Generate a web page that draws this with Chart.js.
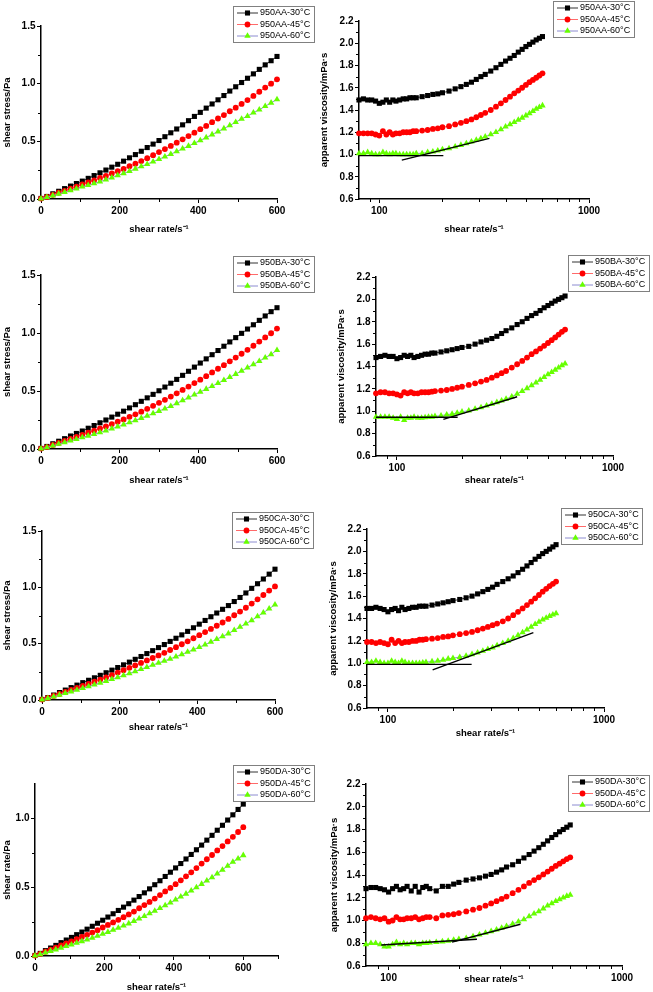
<!DOCTYPE html>
<html><head><meta charset="utf-8">
<script src="https://cdn.jsdelivr.net/npm/chart.js@4.4.1/dist/chart.umd.min.js"></script>
<style>
html,body{margin:0;padding:0;background:#fff;}
body{width:653px;height:992px;position:relative;overflow:hidden;}
canvas{position:absolute;}
</style></head><body>
<script>
// ---------------- DATA ----------------
const stressRates = [0,15,30,45,60,75,90,105,120,135,150,165,180,195,210,225,240,255,270,285,300,315,330,345,360,375,390,405,420,435,450,465,480,495,510,525,540,555,570,585,600];

const aaStress30 = [0.005,0.022,0.045,0.067,0.090,0.112,0.134,0.155,0.179,0.203,0.227,0.251,0.276,0.301,0.328,0.357,0.385,0.414,0.446,0.476,0.507,0.540,0.574,0.607,0.643,0.679,0.716,0.751,0.788,0.824,0.860,0.897,0.936,0.973,1.010,1.047,1.085,1.124,1.163,1.199,1.236];
const aaStress45 = [0.004,0.018,0.036,0.054,0.071,0.089,0.107,0.126,0.143,0.162,0.182,0.200,0.221,0.241,0.261,0.284,0.306,0.329,0.354,0.380,0.407,0.433,0.460,0.488,0.517,0.546,0.575,0.605,0.634,0.666,0.698,0.728,0.761,0.792,0.824,0.858,0.894,0.930,0.966,1.000,1.038];
const aaStress60 = [0.003,0.015,0.030,0.045,0.060,0.075,0.090,0.106,0.120,0.135,0.150,0.167,0.185,0.204,0.222,0.241,0.262,0.282,0.302,0.324,0.345,0.367,0.389,0.412,0.436,0.459,0.484,0.508,0.533,0.559,0.585,0.611,0.638,0.666,0.694,0.719,0.748,0.774,0.804,0.834,0.864];

const baStress30 = [0.005,0.022,0.045,0.067,0.089,0.112,0.134,0.155,0.179,0.202,0.226,0.250,0.275,0.300,0.326,0.354,0.382,0.411,0.441,0.471,0.502,0.534,0.567,0.600,0.635,0.670,0.706,0.741,0.777,0.813,0.849,0.886,0.923,0.960,0.997,1.034,1.071,1.109,1.147,1.184,1.218];
const baStress45 = [0.004,0.017,0.035,0.052,0.070,0.087,0.104,0.122,0.140,0.158,0.177,0.195,0.215,0.235,0.255,0.277,0.299,0.322,0.346,0.372,0.398,0.424,0.452,0.480,0.509,0.538,0.568,0.598,0.628,0.660,0.692,0.723,0.756,0.788,0.821,0.855,0.890,0.926,0.962,0.998,1.038];
const baStress60 = [0.003,0.014,0.028,0.043,0.057,0.071,0.085,0.100,0.114,0.128,0.143,0.158,0.175,0.192,0.210,0.229,0.247,0.267,0.286,0.306,0.327,0.348,0.370,0.394,0.418,0.442,0.468,0.492,0.517,0.542,0.567,0.593,0.619,0.646,0.673,0.701,0.729,0.757,0.787,0.816,0.852];

const caStress30 = [0.005,0.022,0.044,0.066,0.088,0.110,0.132,0.154,0.175,0.197,0.219,0.242,0.265,0.288,0.312,0.336,0.361,0.386,0.412,0.438,0.465,0.492,0.520,0.548,0.578,0.609,0.641,0.673,0.706,0.739,0.772,0.805,0.838,0.874,0.910,0.950,0.991,1.032,1.074,1.117,1.161];
const caStress45 = [0.004,0.018,0.036,0.054,0.071,0.089,0.107,0.125,0.143,0.162,0.181,0.200,0.221,0.243,0.265,0.286,0.307,0.329,0.351,0.373,0.396,0.419,0.444,0.469,0.495,0.521,0.548,0.575,0.603,0.631,0.659,0.688,0.720,0.752,0.785,0.819,0.856,0.894,0.932,0.971,1.008];
const caStress60 = [0.003,0.015,0.030,0.045,0.060,0.075,0.090,0.105,0.120,0.136,0.152,0.168,0.185,0.201,0.218,0.236,0.254,0.273,0.292,0.311,0.329,0.347,0.365,0.385,0.405,0.426,0.447,0.468,0.491,0.515,0.540,0.565,0.590,0.619,0.648,0.677,0.707,0.741,0.775,0.810,0.846];

const daStress30 = [0.004,0.019,0.039,0.058,0.077,0.097,0.116,0.135,0.155,0.174,0.195,0.216,0.238,0.260,0.283,0.307,0.331,0.355,0.380,0.406,0.432,0.459,0.488,0.518,0.547,0.578,0.609,0.640,0.672,0.705,0.738,0.772,0.806,0.842,0.877,0.914,0.950,0.988,1.026,1.065,1.104];
const daStress45 = [0.003,0.015,0.031,0.046,0.061,0.077,0.092,0.107,0.122,0.138,0.154,0.170,0.187,0.207,0.226,0.244,0.263,0.282,0.302,0.323,0.347,0.370,0.393,0.417,0.443,0.469,0.495,0.522,0.550,0.579,0.608,0.639,0.672,0.703,0.734,0.767,0.799,0.833,0.866,0.901,0.936];
const daStress60 = [0.002,0.012,0.024,0.036,0.047,0.059,0.071,0.083,0.095,0.107,0.119,0.132,0.146,0.160,0.174,0.189,0.204,0.221,0.236,0.254,0.272,0.290,0.309,0.328,0.347,0.368,0.388,0.409,0.431,0.452,0.475,0.498,0.523,0.547,0.571,0.599,0.626,0.655,0.684,0.708,0.732];

const viscRates = [80,84,88,92,96,100,104,108,112,116,120,125,130,135,140,145,150,160,170,180,190,200,215,230,245,260,275,290,305,320,340,360,380,400,420,440,460,480,500,520,540,560,580,600];

const aaVisc30 = [1.49,1.50,1.49,1.49,1.48,1.46,1.47,1.49,1.47,1.49,1.48,1.49,1.50,1.50,1.51,1.51,1.51,1.52,1.53,1.54,1.545,1.555,1.57,1.59,1.61,1.63,1.65,1.675,1.70,1.72,1.75,1.78,1.81,1.84,1.865,1.89,1.92,1.945,1.97,1.99,2.01,2.03,2.045,2.06];
const aaVisc45 = [1.19,1.19,1.19,1.19,1.18,1.17,1.21,1.18,1.20,1.18,1.19,1.19,1.20,1.20,1.20,1.21,1.21,1.215,1.22,1.23,1.235,1.245,1.255,1.27,1.285,1.30,1.315,1.335,1.355,1.375,1.40,1.43,1.46,1.49,1.52,1.55,1.575,1.60,1.625,1.65,1.67,1.69,1.71,1.73];
const aaVisc60 = [1.01,1.01,1.02,1.01,1.00,1.00,1.02,1.01,1.00,1.01,1.01,1.00,1.00,1.00,1.00,1.00,1.01,1.01,1.02,1.025,1.035,1.045,1.055,1.07,1.085,1.10,1.115,1.13,1.145,1.16,1.18,1.20,1.225,1.25,1.27,1.29,1.31,1.33,1.35,1.37,1.39,1.41,1.425,1.44];

const baVisc30 = [1.48,1.49,1.50,1.49,1.49,1.47,1.48,1.50,1.49,1.50,1.48,1.49,1.50,1.51,1.51,1.52,1.52,1.53,1.54,1.55,1.56,1.57,1.58,1.60,1.62,1.635,1.65,1.67,1.695,1.72,1.745,1.775,1.80,1.83,1.855,1.875,1.90,1.925,1.945,1.965,1.985,2.00,2.015,2.03];
const baVisc45 = [1.16,1.17,1.17,1.16,1.16,1.15,1.14,1.17,1.16,1.17,1.16,1.16,1.17,1.17,1.17,1.175,1.18,1.185,1.19,1.20,1.21,1.22,1.235,1.25,1.265,1.28,1.30,1.32,1.34,1.36,1.39,1.42,1.45,1.48,1.51,1.535,1.56,1.585,1.61,1.635,1.66,1.685,1.71,1.73];
const baVisc60 = [0.95,0.95,0.95,0.95,0.94,0.93,0.95,0.92,0.94,0.94,0.95,0.94,0.94,0.945,0.95,0.95,0.955,0.96,0.97,0.975,0.985,0.995,1.005,1.02,1.035,1.05,1.065,1.08,1.095,1.11,1.13,1.155,1.18,1.205,1.23,1.255,1.28,1.305,1.33,1.35,1.37,1.39,1.41,1.425];

const caVisc30 = [1.49,1.49,1.50,1.49,1.48,1.46,1.48,1.49,1.47,1.50,1.48,1.49,1.50,1.50,1.51,1.51,1.51,1.52,1.53,1.54,1.55,1.56,1.57,1.585,1.60,1.62,1.64,1.66,1.68,1.705,1.73,1.755,1.78,1.81,1.84,1.87,1.90,1.93,1.955,1.98,2.00,2.02,2.04,2.06];
const caVisc45 = [1.19,1.19,1.18,1.19,1.18,1.17,1.21,1.18,1.20,1.18,1.19,1.19,1.20,1.20,1.21,1.21,1.215,1.22,1.225,1.235,1.24,1.25,1.26,1.27,1.28,1.295,1.31,1.325,1.34,1.355,1.375,1.40,1.43,1.46,1.49,1.52,1.55,1.58,1.61,1.64,1.665,1.69,1.71,1.73];
const caVisc60 = [1.01,1.01,1.02,1.01,1.00,1.00,1.02,1.01,1.00,1.02,1.01,1.00,1.00,1.00,1.00,1.005,1.01,1.015,1.02,1.03,1.04,1.045,1.055,1.065,1.08,1.095,1.11,1.125,1.14,1.16,1.18,1.20,1.225,1.25,1.275,1.30,1.325,1.35,1.37,1.39,1.405,1.42,1.435,1.445];

const daVisc30 = [1.28,1.29,1.29,1.28,1.27,1.25,1.28,1.30,1.27,1.28,1.30,1.26,1.30,1.25,1.29,1.30,1.28,1.26,1.30,1.30,1.32,1.335,1.355,1.365,1.375,1.39,1.405,1.425,1.445,1.47,1.49,1.52,1.55,1.58,1.61,1.64,1.67,1.70,1.73,1.755,1.78,1.80,1.82,1.84];
const daVisc45 = [1.02,1.03,1.02,1.01,1.02,0.99,1.00,1.03,1.01,1.01,1.02,1.02,1.03,1.01,1.02,1.03,1.03,1.02,1.045,1.05,1.055,1.065,1.08,1.095,1.11,1.13,1.15,1.17,1.19,1.21,1.24,1.27,1.30,1.33,1.355,1.38,1.405,1.43,1.455,1.48,1.50,1.52,1.54,1.555];
const daVisc60 = [0.79,0.80,0.80,0.79,0.77,0.77,0.79,0.81,0.79,0.80,0.79,0.80,0.80,0.79,0.80,0.80,0.805,0.81,0.815,0.82,0.83,0.835,0.845,0.86,0.875,0.89,0.905,0.92,0.935,0.95,0.97,0.99,1.01,1.035,1.06,1.08,1.105,1.13,1.15,1.17,1.185,1.20,1.215,1.225];

// tangent lines drawn on the 60 °C viscosity curves
const aaFlatX = [80, 202],  aaFlatY = [0.99, 0.99];
const aaSlopeX = [128, 335], aaSlopeY = [0.95, 1.145];
const baFlatX = [80, 191],  baFlatY = [0.946, 0.946];
const baSlopeX = [164, 360], baSlopeY = [0.928, 1.13];
const caFlatX = [80, 244],  caFlatY = [0.99, 0.99];
const caSlopeX = [161, 471], caSlopeY = [0.94, 1.273];
const daFlatX = [93, 239],  daFlatY = [0.785, 0.835];
const daSlopeX = [187, 367], daSlopeY = [0.81, 0.967];

// axis ranges and tick labels
const stressXRange = [0, 600], stressYRange = [0, 1.5];
const stressXTicks = [0, 200, 400, 600], stressXMinor = [100, 300, 500];
const stressYTicks = [0, 0.5, 1.0, 1.5], stressYMinor = [0.25, 0.75, 1.25];
const daXRange = [0, 700], daYRange = [0, 1.25];
const daXTicks = [0, 200, 400, 600], daXMinor = [100, 300, 500, 700];
const daYTicks = [0, 0.5, 1.0], daYMinor = [0.25, 0.75];
const viscXRange = [80, 1000], viscYRange = [0.6, 2.2];
const viscXTicks = [100, 1000], viscXMinor = [90, 200, 300, 400, 500, 600, 700, 800, 900];
const viscYTicks = [0.6, 0.8, 1.0, 1.2, 1.4, 1.6, 1.8, 2.0, 2.2];
const viscYMinor = [0.7, 0.9, 1.1, 1.3, 1.5, 1.7, 1.9, 2.1];

const seriesSuffix = ['-30°C', '-45°C', '-60°C'];
const xTitle = 'shear rate/s⁻¹';
const stressTitle = 'shear stress/Pa';
const daStressTitle = 'shear rate/Pa';
const viscTitle = 'apparent viscosity/mPa·s';

// ---------------- PANELS ----------------
const panelData = [
  {prefix:'950AA', log:false, xs:stressRates, series:[aaStress30,aaStress45,aaStress60], tangents:[], xr:stressXRange, yr:stressYRange, xt:stressXTicks, xm:stressXMinor, yt:stressYTicks, ym:stressYMinor, yTitle:stressTitle},
  {prefix:'950AA', log:true, xs:viscRates, series:[aaVisc30,aaVisc45,aaVisc60], tangents:[[aaFlatX,aaFlatY],[aaSlopeX,aaSlopeY]], xr:viscXRange, yr:viscYRange, xt:viscXTicks, xm:viscXMinor, yt:viscYTicks, ym:viscYMinor, yTitle:viscTitle},
  {prefix:'950BA', log:false, xs:stressRates, series:[baStress30,baStress45,baStress60], tangents:[], xr:stressXRange, yr:stressYRange, xt:stressXTicks, xm:stressXMinor, yt:stressYTicks, ym:stressYMinor, yTitle:stressTitle},
  {prefix:'950BA', log:true, xs:viscRates, series:[baVisc30,baVisc45,baVisc60], tangents:[[baFlatX,baFlatY],[baSlopeX,baSlopeY]], xr:viscXRange, yr:viscYRange, xt:viscXTicks, xm:viscXMinor, yt:viscYTicks, ym:viscYMinor, yTitle:viscTitle},
  {prefix:'950CA', log:false, xs:stressRates, series:[caStress30,caStress45,caStress60], tangents:[], xr:stressXRange, yr:stressYRange, xt:stressXTicks, xm:stressXMinor, yt:stressYTicks, ym:stressYMinor, yTitle:stressTitle},
  {prefix:'950CA', log:true, xs:viscRates, series:[caVisc30,caVisc45,caVisc60], tangents:[[caFlatX,caFlatY],[caSlopeX,caSlopeY]], xr:viscXRange, yr:viscYRange, xt:viscXTicks, xm:viscXMinor, yt:viscYTicks, ym:viscYMinor, yTitle:viscTitle},
  {prefix:'950DA', log:false, xs:stressRates, series:[daStress30,daStress45,daStress60], tangents:[], xr:daXRange, yr:daYRange, xt:daXTicks, xm:daXMinor, yt:daYTicks, ym:daYMinor, yTitle:daStressTitle},
  {prefix:'950DA', log:true, xs:viscRates, series:[daVisc30,daVisc45,daVisc60], tangents:[[daFlatX,daFlatY],[daSlopeX,daSlopeY]], xr:viscXRange, yr:viscYRange, xt:viscXTicks, xm:viscXMinor, yt:viscYTicks, ym:viscYMinor, yTitle:viscTitle}
];

// layout (page pixels): canvas box, plot area [L,T,R,B], x-title centre y, y-title centre x, legend top-left
const panelLayout = [
  {canvas:[0,0,320,240],     area:[41,26,277,199],  xTitleY:229, yTitleX:7,   legend:[233,6]},
  {canvas:[312,0,341,240],   area:[359,21,589,199], xTitleY:229, yTitleX:324, legend:[553,1]},
  {canvas:[0,240,320,250],   area:[41,275,277,449], xTitleY:480, yTitleX:7,   legend:[233,256]},
  {canvas:[312,240,341,250], area:[376,277,613,456],xTitleY:480, yTitleX:341, legend:[568,255]},
  {canvas:[0,490,320,250],   area:[42,531,275,700], xTitleY:727, yTitleX:7.5, legend:[232,512]},
  {canvas:[312,490,341,250], area:[367,529,604,708],xTitleY:733, yTitleX:333, legend:[561,508]},
  {canvas:[0,740,320,252],   area:[35,784,278,956], xTitleY:987, yTitleX:7,   legend:[233,765]},
  {canvas:[312,740,341,252], area:[366,784,622,966],xTitleY:979, yTitleX:334.5,legend:[568,775]}
];

const FONT = '"Liberation Sans", Arial, Helvetica, sans-serif';
const seriesStyle = [
  {fill:'#000000', line:'#333333', shape:'rect',     r:3.6, order:3},
  {fill:'#ff0000', line:'#ff6a6a', shape:'circle',   r:2.9, order:2},
  {fill:'#66ff00', line:'#8c8cd0', shape:'triangle', r:3.7, order:1}
];

function drawMarker(ctx, shape, x, y, r, color) {
  ctx.fillStyle = color;
  ctx.beginPath();
  if (shape === 'rect') {
    const s = r * Math.SQRT1_2;
    ctx.rect(x - s, y - s, 2 * s, 2 * s);
  } else if (shape === 'circle') {
    ctx.arc(x, y, r, 0, Math.PI * 2);
  } else {
    const a = 2 * Math.PI / 3;
    ctx.moveTo(x, y - r);
    ctx.lineTo(x + r * Math.sin(a), y - r * Math.cos(a));
    ctx.lineTo(x + r * Math.sin(2 * a), y - r * Math.cos(2 * a));
    ctx.closePath();
  }
  ctx.fill();
}

const minorTickPlugin = {
  id: 'minorTicks',
  afterDraw(chart, args, o) {
    const {ctx, chartArea: a, scales} = chart;
    ctx.save();
    ctx.strokeStyle = '#000';
    ctx.lineWidth = 1;
    (o.x || []).forEach(v => {
      const px = Math.round(scales.x.getPixelForValue(v)) + 0.5;
      ctx.beginPath(); ctx.moveTo(px, a.bottom); ctx.lineTo(px, a.bottom + 3); ctx.stroke();
    });
    (o.y || []).forEach(v => {
      const py = Math.round(scales.y.getPixelForValue(v)) + 0.5;
      ctx.beginPath(); ctx.moveTo(a.left, py); ctx.lineTo(a.left - 3, py); ctx.stroke();
    });
    ctx.restore();
  }
};

const boxLegendPlugin = {
  id: 'boxLegend',
  afterDraw(chart, args, o) {
    const ctx = chart.ctx;
    const items = chart.data.datasets.filter(d => d.isSeries);
    const x0 = o.x, y0 = o.y, w = 81, h = 36;
    ctx.save();
    ctx.fillStyle = '#ffffff';
    ctx.fillRect(x0, y0, w, h);
    ctx.strokeStyle = '#808080';
    ctx.lineWidth = 1;
    ctx.strokeRect(x0 + 0.5, y0 + 0.5, w, h);
    ctx.font = '9px ' + FONT;
    ctx.textBaseline = 'middle';
    ctx.textAlign = 'left';
    items.forEach((d, i) => {
      const cy = y0 + 6.5 + i * 11.5;
      ctx.strokeStyle = d.borderColor;
      ctx.lineWidth = 1;
      ctx.beginPath(); ctx.moveTo(x0 + 4, cy + 0.5); ctx.lineTo(x0 + 25, cy + 0.5); ctx.stroke();
      drawMarker(ctx, d.pointStyle, x0 + 14.5, cy + 0.5, d.pointRadius, d.pointBackgroundColor);
      ctx.fillStyle = '#000';
      ctx.fillText(d.label, x0 + 27, cy + 0.5);
    });
    ctx.restore();
  }
};

function buildChart(p, lay) {
  const [cl, ct, cw, ch] = lay.canvas;
  const [L, T, R, B] = lay.area;
  const cv = document.createElement('canvas');
  cv.width = cw; cv.height = ch;
  cv.style.left = cl + 'px'; cv.style.top = ct + 'px';
  cv.style.width = cw + 'px'; cv.style.height = ch + 'px';
  document.body.appendChild(cv);

  const xh = Math.min(30, ct + ch - B);
  const lh = 9.5 * 1.2;

  const datasets = [];
  p.series.forEach((ys, i) => {
    const s = seriesStyle[i];
    datasets.push({
      label: p.prefix + seriesSuffix[i],
      isSeries: true,
      data: ys.map((y, k) => ({x: p.xs[k], y: y})),
      borderColor: s.line, borderWidth: 1,
      pointStyle: s.shape, pointRadius: s.r,
      pointBackgroundColor: s.fill, pointBorderColor: s.fill, pointBorderWidth: 0,
      order: s.order, clip: false, tension: 0
    });
  });
  p.tangents.forEach(([tx, ty]) => {
    datasets.push({
      label: '', isSeries: false,
      data: tx.map((x, k) => ({x: x, y: ty[k]})),
      borderColor: '#000', borderWidth: 1.4, pointRadius: 0, order: 0, clip: false
    });
  });

  const tickFont = {family: FONT, size: 10, weight: 'bold'};
  const titleFont = {family: FONT, size: 9.5, weight: 'bold', lineHeight: 1.2};
  const gridOpt = {display: true, drawOnChartArea: false, drawTicks: true, tickLength: 4, tickWidth: 1, tickColor: '#000'};
  const borderOpt = {display: true, color: '#000', width: 1.5};

  new Chart(cv, {
    type: 'line',
    data: {datasets},
    options: {
      responsive: false, animation: false, devicePixelRatio: 1,
      events: [],
      layout: {padding: {left: 0, top: T - ct, right: cl + cw - R, bottom: ct + ch - B - xh}},
      plugins: {
        legend: {display: false},
        tooltip: {enabled: false},
        minorTicks: {x: p.xm, y: p.ym},
        boxLegend: {x: lay.legend[0] - cl, y: lay.legend[1] - ct}
      },
      scales: {
        x: {
          type: p.log ? 'logarithmic' : 'linear',
          position: 'bottom',
          min: p.xr[0], max: p.xr[1],
          afterBuildTicks: s => { s.ticks = p.xt.map(v => ({value: v})); },
          afterFit: s => { s.height = xh; },
          ticks: {font: tickFont, color: '#000', padding: 2, maxRotation: 0, autoSkip: false,
                  callback: v => String(v)},
          grid: gridOpt, border: borderOpt,
          title: {display: true, text: xTitle, font: titleFont, color: '#000',
                  padding: {top: 0, bottom: (B + xh) - lay.xTitleY - lh / 2}}
        },
        y: {
          type: 'linear', position: 'left',
          min: p.yr[0], max: p.yr[1],
          afterBuildTicks: s => { s.ticks = p.yt.map(v => ({value: v})); },
          afterFit: s => { s.width = L - cl; },
          ticks: {font: tickFont, color: '#000', padding: 1.5, callback: v => Number(v).toFixed(1)},
          grid: gridOpt, border: borderOpt,
          title: {display: true, text: p.yTitle, font: titleFont, color: '#000',
                  padding: {top: lay.yTitleX - cl - lh / 2, bottom: 0}}
        }
      }
    },
    plugins: [minorTickPlugin, boxLegendPlugin]
  });
}

panelData.forEach((p, i) => buildChart(p, panelLayout[i]));
</script>
</body></html>
